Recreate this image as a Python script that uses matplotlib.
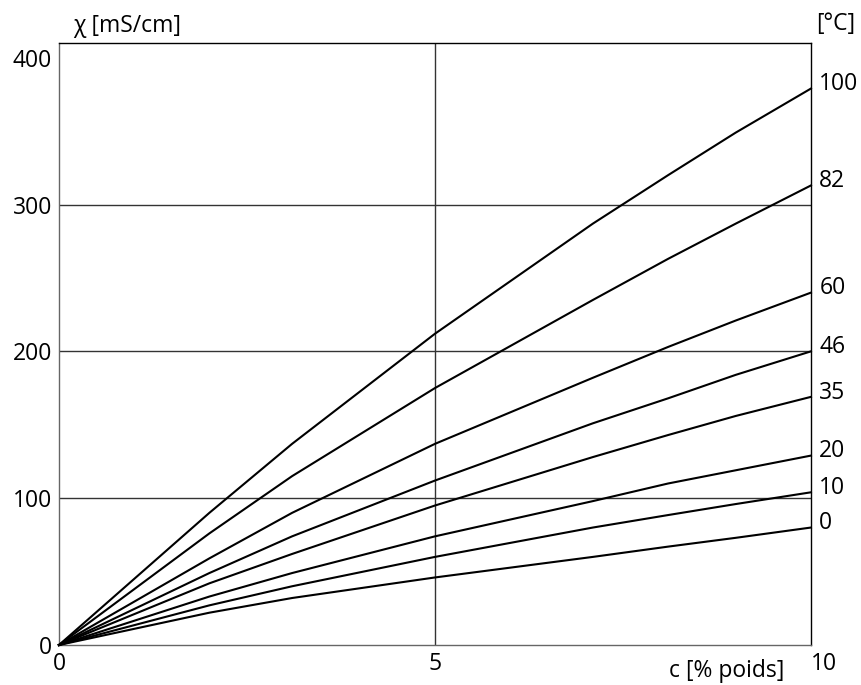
import matplotlib
matplotlib.use('Agg')
import matplotlib.pyplot as plt

plt.rcParams['font.family'] = ['Open Sans', 'DejaVu Sans']

# concentration, % by weight
conc = [0, 2.0, 3.1, 5.0, 7.1, 8.1, 9.0, 10]
# conductivity (mS/cm) per temperature (degC)
temps = [100, 82, 60, 46, 35, 20, 10, 0]
t100 = [0, 90, 137, 212, 287, 320, 349, 379]
t82 = [0, 76, 115, 175, 235, 263, 287, 313]
t60 = [0, 59, 90, 137, 182, 203, 221, 240]
t46 = [0, 49, 74, 112, 151, 168, 184, 200]
t35 = [0, 42, 62, 95, 128, 143, 156, 169]
t20 = [0, 33, 49, 74, 98, 110, 119, 129]
t10 = [0, 27, 40, 60, 80, 88.5, 96, 104]
t0 = [0, 22, 32, 46, 60, 67, 73, 80]
curves = [t100, t82, t60, t46, t35, t20, t10, t0]

fig = plt.figure(figsize=(8.62, 6.85), dpi=100)
ax = fig.add_axes([0.0684, 0.0584, 0.8724, 0.8788])

for y in [100, 200, 300]:
    ax.axhline(y, color='#333333', lw=1.0, zorder=1)
ax.axvline(5, color='#333333', lw=1.0, zorder=1)

for t, vals in zip(temps, curves):
    ax.plot(conc, vals, color='black', lw=1.5, solid_joinstyle='round', zorder=3, clip_on=False)
    ax.annotate(str(t), xy=(1.0, vals[-1]), xycoords=('axes fraction', 'data'),
                xytext=(6, 3), textcoords='offset points', ha='left', va='center',
                fontsize=16.5)

ax.set_xlim(0, 10)
ax.set_ylim(0, 410)
ax.set_xticks([0, 5, 10])
ax.set_yticks([0, 100, 200, 300, 400])
ax.tick_params(length=0, labelsize=16.5, pad=5)
ax.get_xticklabels()[-1].set_ha('left')

for s in ['left', 'bottom']:
    ax.spines[s].set_color('#666666')
for s in ['top', 'right']:
    ax.spines[s].set_color('black')
for s in ax.spines.values():
    s.set_linewidth(1.0)

fig.text(73 / 862, 1 - 26 / 685, 'χ [mS/cm]', fontsize=16.5, ha='left', va='center')
fig.text(836 / 862, 1 - 24 / 685, '[°C]', fontsize=16.5, ha='center', va='center')
fig.text(727 / 862, 1 - 671 / 685, 'c [% poids]', fontsize=16.5, ha='center', va='center')

fig.savefig('out.png', dpi=100)
